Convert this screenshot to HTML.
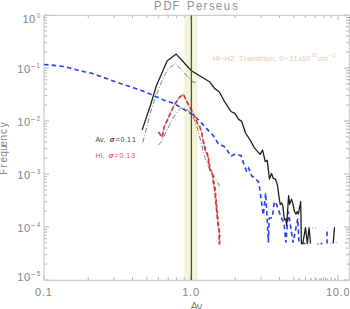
<!DOCTYPE html>
<html><head><meta charset="utf-8"><style>
html,body{margin:0;padding:0;background:#fff;}
body{width:350px;height:309px;overflow:hidden;font-family:"Liberation Sans",sans-serif;}
svg{display:block;}
</style></head><body>
<svg width="350" height="309" viewBox="0 0 350 309">
<rect x="184.4" y="15.5" width="13.1" height="264.5" fill="#f5f3d6"/>
<path d="M44.00 280v-5M44.00 15v5M88.25 280v-3M88.25 15v3M114.14 280v-3M114.14 15v3M132.50 280v-3M132.50 15v3M146.75 280v-3M146.75 15v3M158.39 280v-3M158.39 15v3M168.23 280v-3M168.23 15v3M176.75 280v-3M176.75 15v3M184.27 280v-3M184.27 15v3M191.00 280v-5M191.00 15v5M235.25 280v-3M235.25 15v3M261.14 280v-3M261.14 15v3M279.50 280v-3M279.50 15v3M293.75 280v-3M293.75 15v3M305.39 280v-3M305.39 15v3M315.23 280v-3M315.23 15v3M323.75 280v-3M323.75 15v3M331.27 280v-3M331.27 15v3M338.00 280v-5M338.00 15v5M44 280.00h5M349 280.00h-5M44 264.05h3M349 264.05h-3M44 254.71h3M349 254.71h-3M44 248.09h3M349 248.09h-3M44 242.95h3M349 242.95h-3M44 238.76h3M349 238.76h-3M44 235.21h3M349 235.21h-3M44 232.14h3M349 232.14h-3M44 229.43h3M349 229.43h-3M44 227.00h5M349 227.00h-5M44 211.05h3M349 211.05h-3M44 201.71h3M349 201.71h-3M44 195.09h3M349 195.09h-3M44 189.95h3M349 189.95h-3M44 185.76h3M349 185.76h-3M44 182.21h3M349 182.21h-3M44 179.14h3M349 179.14h-3M44 176.43h3M349 176.43h-3M44 174.00h5M349 174.00h-5M44 158.05h3M349 158.05h-3M44 148.71h3M349 148.71h-3M44 142.09h3M349 142.09h-3M44 136.95h3M349 136.95h-3M44 132.76h3M349 132.76h-3M44 129.21h3M349 129.21h-3M44 126.14h3M349 126.14h-3M44 123.43h3M349 123.43h-3M44 121.00h5M349 121.00h-5M44 105.05h3M349 105.05h-3M44 95.71h3M349 95.71h-3M44 89.09h3M349 89.09h-3M44 83.95h3M349 83.95h-3M44 79.76h3M349 79.76h-3M44 76.21h3M349 76.21h-3M44 73.14h3M349 73.14h-3M44 70.43h3M349 70.43h-3M44 68.00h5M349 68.00h-5M44 52.05h3M349 52.05h-3M44 42.71h3M349 42.71h-3M44 36.09h3M349 36.09h-3M44 30.95h3M349 30.95h-3M44 26.76h3M349 26.76h-3M44 23.21h3M349 23.21h-3M44 20.14h3M349 20.14h-3M44 17.43h3M349 17.43h-3M44 15.00h5M349 15.00h-5" stroke="#b4b4b4" stroke-width="1" fill="none"/>
<path d="M44 15.4H349.4M44 280.4H349.4M44 15.4V280.4M349.4 15.4V280.4" fill="none" stroke="#cbcbcb" stroke-width="1.1"/>
<polyline points="142.8,142.4 151.2,110 153.7,102.3 162.3,80 168.3,68.6 175.2,63.6 183.6,72 190.7,80.4 194,82.4 197.8,82.4" fill="none" stroke="#7c7c7c" stroke-width="1" stroke-dasharray="5 2 1 2"/>
<polyline points="158.3,145 161,142.3 167.8,128.7 173.6,117 179.4,109.3 183.3,107.3 189.1,111.2 194,119 197.9,129.7 204.7,157.2 209.6,168.8 214.4,176.6 220.2,187.3" fill="none" stroke="#7c7c7c" stroke-width="1" stroke-dasharray="5 2 1 2"/>
<polyline points="44,64.5 50,65 57,65.7 64,66.5 70,68 77,70 84.3,71.7 91.7,73.2 99.2,75.9 106.6,78.4 113.9,81.2 121.1,83.8 128.9,86.2 135.7,88.6 141.7,90.6 150.3,94.1 157.1,97.1 164,100.2 172.6,103.1 179.4,106.6 186.3,110.9 193.1,115.1 199.1,120.3 208.5,130.6 213.4,135.8 218.3,143.6 224.1,146.5 226.1,148.4 230.9,156.2 234.8,154.3 241,155.5 243.9,164.3 246.8,172 248.7,168.2 251.7,175.9 254.6,177.9 258.4,181.7 259.4,186.6 263.3,215 265.7,193 268.4,242.4 269.2,218.2 272.3,217.6 274.3,201.7 276.2,203.6 279.1,211.4 281.1,217.2 284,223 285.9,242.4 288.4,211.6 293.1,242.7 297.8,218.6 298.9,242.5 302.6,243.5 305.5,243.5" fill="none" stroke="#2a3cf0" stroke-width="1.6" stroke-dasharray="4.5 3.2"/>
<polyline points="320.6,243.6 322.3,243.6" fill="none" stroke="#2a3cf0" stroke-width="1.6" stroke-dasharray="2 2"/>
<polyline points="327,231.5 327,243.6" fill="none" stroke="#2a3cf0" stroke-width="1.6" stroke-dasharray="4.5 3.2"/>
<polyline points="142.1,130.1 150.3,105.7 156.4,85.8 167.1,60.9 176.2,54.1 191.4,70.7 200,76 209.5,81.7 214.4,88.2 219.3,92 224.1,100.8 230.9,111.5 234.8,113.4 238.7,119.4 241.7,121.4 245.5,133 249.4,138.8 254.3,147.6 260.1,154.4 262.6,150.1 265.2,161.4 267.2,160.4 269.5,179 271.5,173.5 273.4,178.4 275.4,179.1 277.4,185 279.4,199.6 280.3,204.4 281.8,203 282.8,205.4 283.7,214.1 284.5,219.6 285.9,219.1 286.6,225.4 288.6,195.7 289.6,204.4 291.5,199.1 293,204.4 294.4,211.2 295.9,214.1 297.3,211.7 298.3,214.1 300.7,201.7 301.4,243.5 302.8,243.5 305.5,227.7 307.3,243.5 309.1,227.7 310.5,243.5" fill="none" stroke="#1e1e1e" stroke-width="1.3" stroke-linejoin="round"/>
<polyline points="333.2,243.5 334.5,227.3" fill="none" stroke="#1e1e1e" stroke-width="1.3"/>
<polyline points="317.3,243.8 318.5,243.8" fill="none" stroke="#444" stroke-width="1.3"/>
<path d="M312.4 227V228.8M315.4 227V228.8M328 227.2V228.6M336.2 241.5V243.8M323 243V244.3M330.5 242.6V244.2M345.5 241.8V244" stroke="#c8c8c8" stroke-width="1"/>
<path d="M299.1 278V280M311.1 278V280M316.1 278.2V280M319.9 278.4V280M321.5 278V280M325.5 278.3V280M327 278.3V280M335 278V280" stroke="#a8a8a8" stroke-width="1"/>
<polyline points="158.3,132 162.2,137.2 163.9,127.7 168.7,117 174.6,104.4 179.6,97.3 183.3,94.2 187.3,102.5 192,111.2 195.4,118 197.9,124.4 199.8,126.6 201.7,132.6 202.8,139.7 205.7,151.4 207.6,155.2 209.6,168.8 212.5,174.7 213.4,182.4 214.7,189 215.9,202.7 217,214 218.1,225.4 219.3,232.2 219.3,244.6" fill="none" stroke="#c4c8c2" stroke-width="1.4"/>
<polyline points="158.3,132 162.2,137.2 163.9,127.7 168.7,117 174.6,104.4 179.6,97.3 183.3,94.2 187.3,102.5 192,111.2 195.4,118 197.9,124.4 199.8,126.6 201.7,132.6 202.8,139.7 205.7,151.4 207.6,155.2 209.6,168.8 212.5,174.7 213.4,182.4 214.7,189 215.9,202.7 217,214 218.1,225.4 219.3,232.2 219.3,244.6" fill="none" stroke="#e0303a" stroke-width="1.65" stroke-dasharray="4.5 2.5"/>
<polyline points="203.6,142 206.3,151.4 208.4,156 210.3,168.8 213,174.7 214,182.4 215.3,189 216.5,202.7 217.6,214 218.7,225.4 219.8,232.2 219.8,244.2" fill="none" stroke="#e43440" stroke-width="1.4" stroke-dasharray="3 3" stroke-dashoffset="1.5"/>
<line x1="191.4" y1="15.5" x2="191.4" y2="280" stroke="#4d5347" stroke-width="1.3"/>
<text x="177.09 187.90 198.24 215.03 225.42 233.96 240.33 248.07 257.09 266.99" y="9.5" font-size="13" fill="#929292" transform="scale(0.87,1)" font-family="Liberation Sans, sans-serif" >PDFPerseus</text>
<text x="22.43 28.99" y="23.2" font-size="11.2" fill="#858585" font-family="Liberation Sans, sans-serif" >10</text>
<text x="36.75" y="18.1" font-size="6.3" fill="#858585" font-family="Liberation Sans, sans-serif" >0</text>
<text x="17.13 24.09" y="72.8" font-size="11.2" fill="#858585" font-family="Liberation Sans, sans-serif" >10</text>
<text x="30.75" y="69.0" font-size="8.4" fill="#858585" font-family="Liberation Sans, sans-serif" >−</text>
<text x="36.56" y="67.7" font-size="6.3" fill="#858585" font-family="Liberation Sans, sans-serif" >1</text>
<text x="17.13 24.09" y="125.8" font-size="11.2" fill="#858585" font-family="Liberation Sans, sans-serif" >10</text>
<text x="30.75" y="122.0" font-size="8.4" fill="#858585" font-family="Liberation Sans, sans-serif" >−</text>
<text x="36.65" y="120.7" font-size="6.3" fill="#858585" font-family="Liberation Sans, sans-serif" >2</text>
<text x="17.13 24.09" y="178.8" font-size="11.2" fill="#858585" font-family="Liberation Sans, sans-serif" >10</text>
<text x="30.75" y="175.0" font-size="8.4" fill="#858585" font-family="Liberation Sans, sans-serif" >−</text>
<text x="36.67" y="173.7" font-size="6.3" fill="#858585" font-family="Liberation Sans, sans-serif" >3</text>
<text x="17.13 24.09" y="231.6" font-size="11.2" fill="#858585" font-family="Liberation Sans, sans-serif" >10</text>
<text x="30.75" y="227.8" font-size="8.4" fill="#858585" font-family="Liberation Sans, sans-serif" >−</text>
<text x="36.67" y="226.5" font-size="6.3" fill="#858585" font-family="Liberation Sans, sans-serif" >4</text>
<text x="17.13 24.09" y="280.6" font-size="11.2" fill="#858585" font-family="Liberation Sans, sans-serif" >10</text>
<text x="30.75" y="276.8" font-size="8.4" fill="#858585" font-family="Liberation Sans, sans-serif" >−</text>
<text x="36.65" y="275.5" font-size="6.3" fill="#858585" font-family="Liberation Sans, sans-serif" >5</text>
<text x="34.94 41.97 45.79" y="295.8" font-size="11" fill="#858585" font-family="Liberation Sans, sans-serif" >0.1</text>
<text x="182.29 188.97 193.04" y="295.8" font-size="11" fill="#858585" font-family="Liberation Sans, sans-serif" >1.0</text>
<text x="325.99 332.84 339.67 343.44" y="295.9" font-size="11" fill="#858585" font-family="Liberation Sans, sans-serif" >10.0</text>
<text x="190.43 196.85" y="309.8" font-size="11" fill="#858585" font-family="Liberation Sans, sans-serif" >Av</text>
<g transform="translate(7.3,175) rotate(-90)"><text x="0.18 7.54 12.48 18.18 24.15 28.58 34.54 41.08 47.68" y="0" font-size="10" fill="#858585" font-family="Liberation Sans, sans-serif" >Frequency</text></g>
<text x="95.62 100.10 103.53 109.65 115.41 120.60 124.88 127.06 132.06" y="142" font-size="7" fill="#444" font-family="Liberation Sans, sans-serif" >Av,<tspan font-style="italic" font-weight="bold">σ</tspan>=0.11</text>
<text x="95.57 100.63 102.83 108.65 114.46 119.55 123.73 126.26 131.17" y="158" font-size="7" fill="#f24848" font-family="Liberation Sans, sans-serif" >HI,<tspan font-style="italic" font-weight="bold">σ</tspan>=0.13</text>
<text x="212.55 217.84 220.18 224.55 230.09 238.68 243.75 246.93 251.58 255.73 259.16 261.31 263.96 265.29 269.78 273.94 278.89 283.78 289.28 293.58 298.40 301.78 305.69 317.64 321.83" y="60.5" font-size="7.6" fill="#e3cbb1" font-family="Liberation Sans, sans-serif" >HI−H2Transition,9−11x10cm</text>
<text x="311.31 314.11 328.84 332.21" y="56.7" font-size="5" fill="#e3cbb1" font-family="Liberation Sans, sans-serif" >20−2</text>
</svg>
</body></html>
